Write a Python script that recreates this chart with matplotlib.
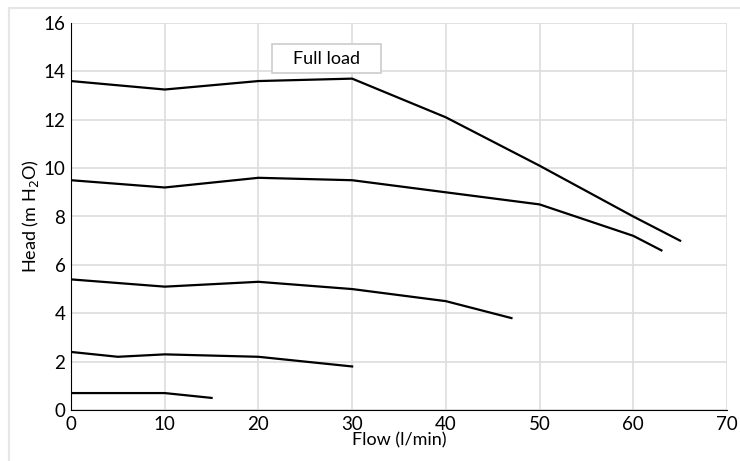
import matplotlib.pyplot as plt
from matplotlib.lines import Line2D
from matplotlib.patches import Rectangle

plt.rcParams['font.family'] = ['Lato', 'DejaVu Sans']

# Pump curves: flow (l/min) vs head (m H2O)
flow_1 = [0, 10, 20, 30, 40, 50, 60, 65]
head_1 = [13.6, 13.25, 13.6, 13.7, 12.1, 10.1, 8.0, 7.0]

flow_2 = [0, 10, 20, 30, 40, 50, 60, 63]
head_2 = [9.5, 9.2, 9.6, 9.5, 9.0, 8.5, 7.2, 6.6]

flow_3 = [0, 10, 20, 30, 40, 47]
head_3 = [5.4, 5.1, 5.3, 5.0, 4.5, 3.8]

flow_4 = [0, 5, 10, 20, 30]
head_4 = [2.4, 2.2, 2.3, 2.2, 1.8]

flow_5 = [0, 10, 15]
head_5 = [0.7, 0.7, 0.5]

x_ticks = [0, 10, 20, 30, 40, 50, 60, 70]
y_ticks = [0, 2, 4, 6, 8, 10, 12, 14, 16]

fig = plt.figure(figsize=(7.4, 4.61), dpi=100)
ax = fig.add_axes([71 / 740, 1 - 410 / 461, 656 / 740, 387 / 461])

for fx, hy in [(flow_1, head_1), (flow_2, head_2), (flow_3, head_3),
               (flow_4, head_4), (flow_5, head_5)]:
    ax.plot(fx, hy, color='black', linewidth=1.6, zorder=3)

ax.set_xlim(0, 70)
ax.set_ylim(0, 16)
ax.set_xticks(x_ticks)
ax.set_yticks(y_ticks)
ax.grid(True, color='#dddddd', linewidth=1.2)
ax.set_axisbelow(True)
ax.tick_params(length=0, labelsize=13.5, pad=4)

for side in ['top', 'right']:
    ax.spines[side].set_visible(False)
ax.spines['left'].set_color('black')
ax.spines['bottom'].set_color('black')

ax.set_xlabel('Flow (l/min)', fontsize=13, labelpad=0)
ax.set_ylabel('Head (m H$_2$O)', fontsize=13, labelpad=2)

# "Full load" label box
ax.add_patch(Rectangle((21.45, 13.93), 11.6, 1.2, facecolor='white',
                       edgecolor='#cccccc', linewidth=1.2, zorder=4))
ax.text(27.25, 14.53, 'Full load', fontsize=13, ha='center', va='center', zorder=5)

# outer light frame
fig.add_artist(Line2D([9 / 740, 9 / 740], [0, 1 - 8 / 461], color='#e6e6e6',
                      linewidth=1.5, transform=fig.transFigure))
fig.add_artist(Line2D([9 / 740, 1], [1 - 8 / 461, 1 - 8 / 461], color='#e6e6e6',
                      linewidth=1.5, transform=fig.transFigure))

fig.savefig('out.png', dpi=100)
